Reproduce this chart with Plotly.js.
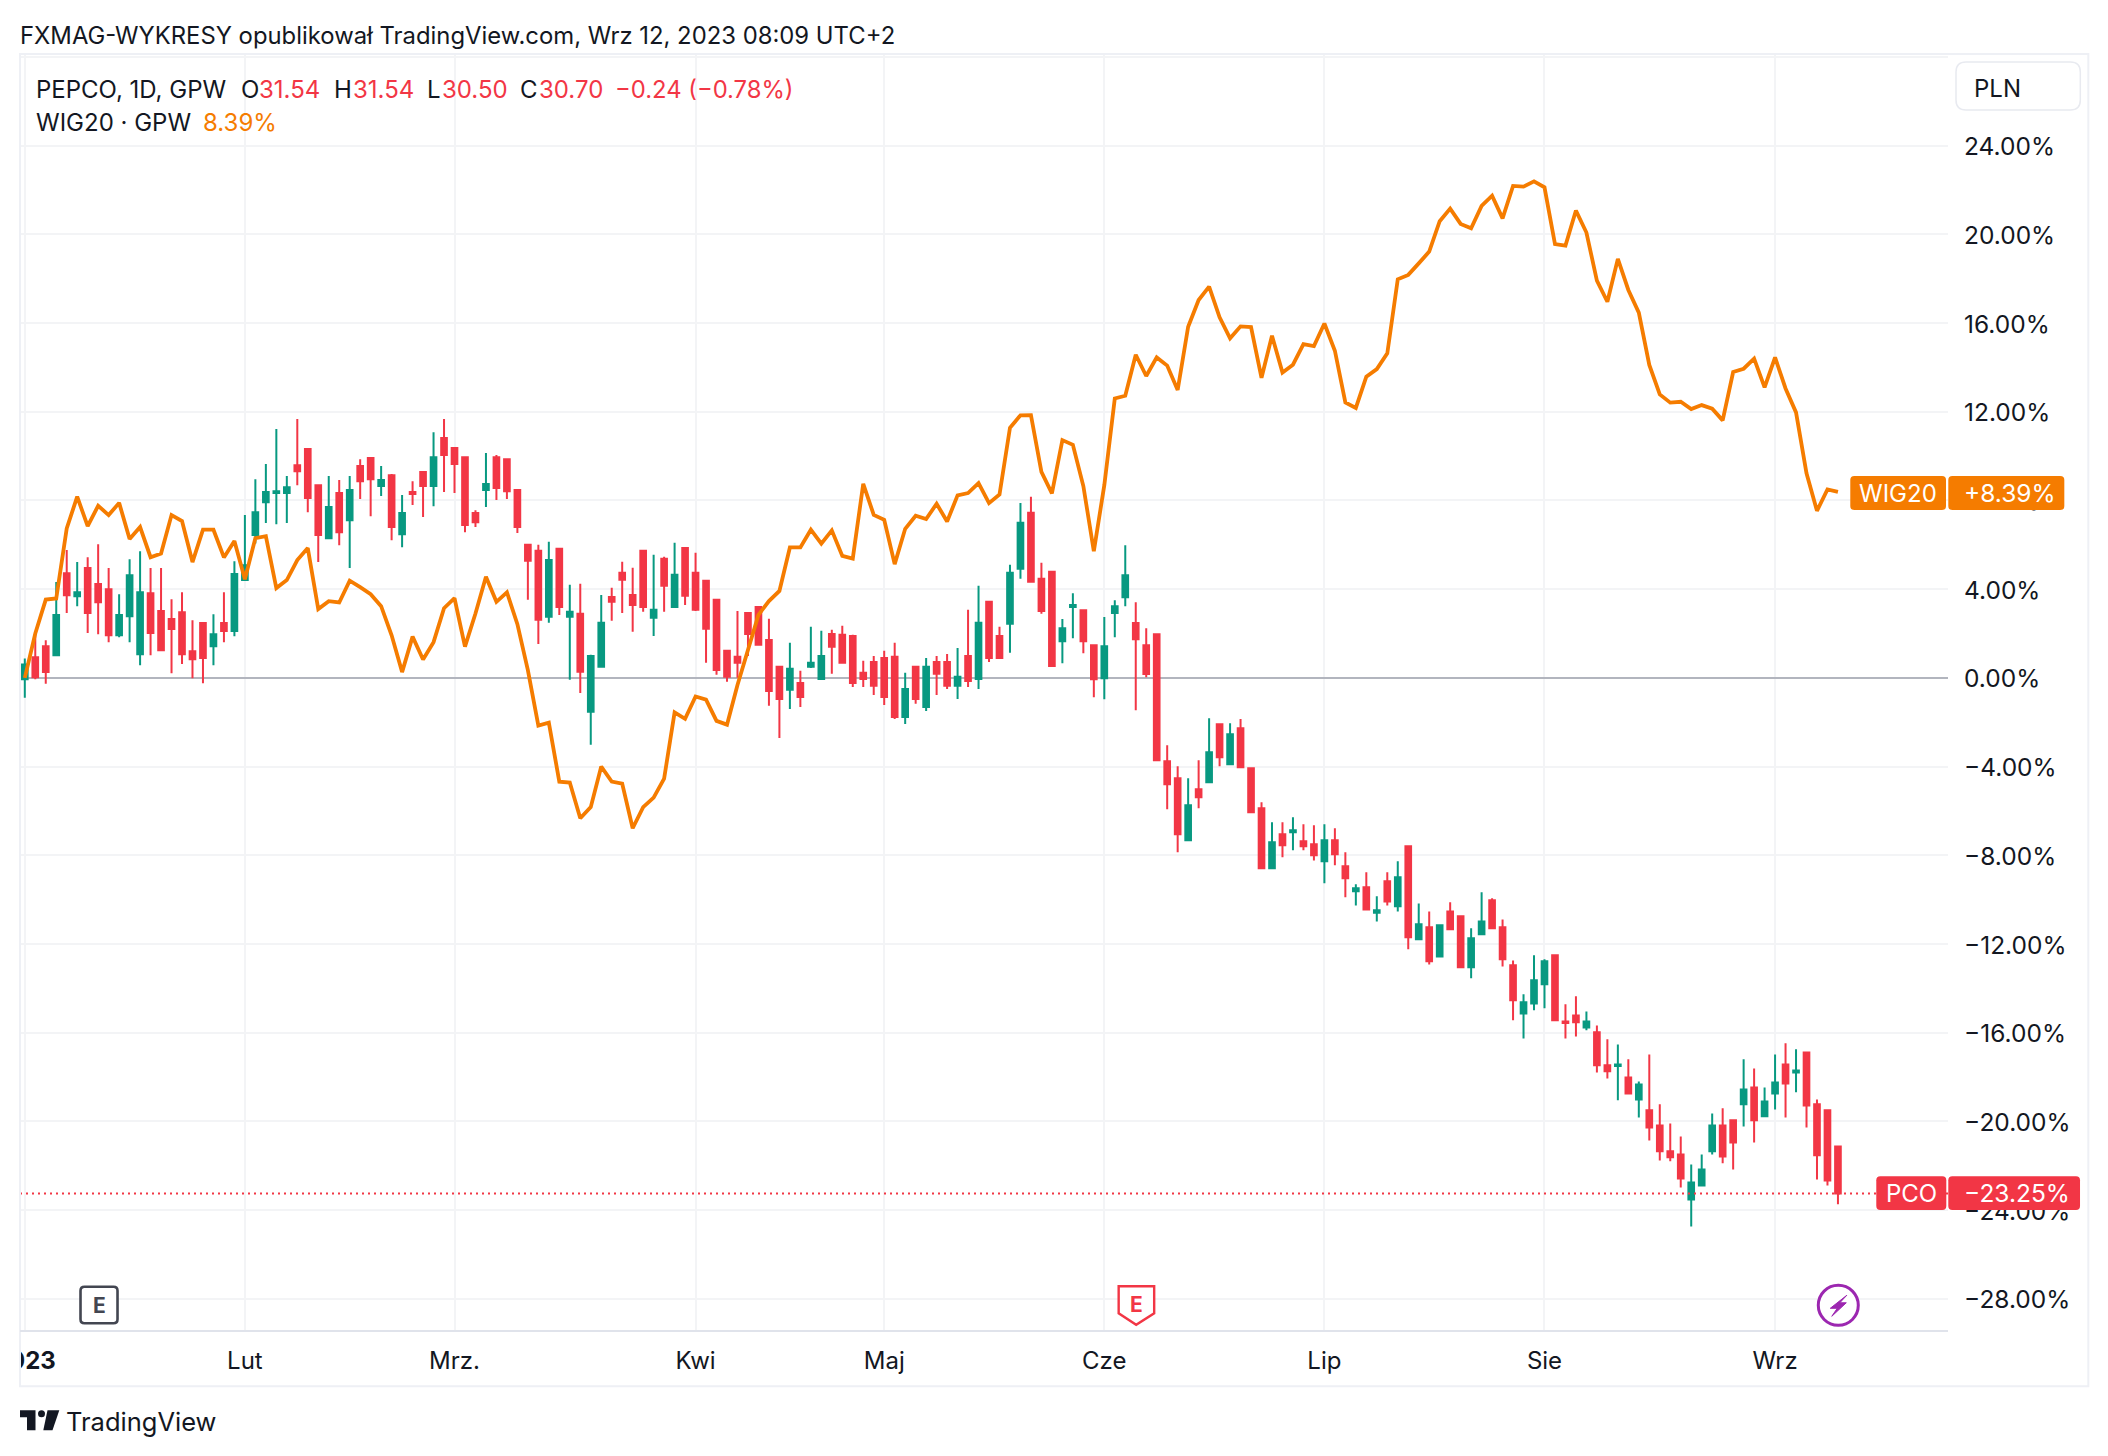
<!DOCTYPE html>
<html>
<head>
<meta charset="utf-8">
<title>PEPCO vs WIG20</title>
<script src="https://cdn.plot.ly/plotly-3.0.1.min.js"></script>
<style>
  html, body {margin: 0; padding: 0; background: #ffffff;}
  #plot-area {width: 2108px; height: 1456px;}
</style>
</head>
<body>
<div id="plot-area"></div>
<script>
// values are % change against the first session, one per session
var pcoOpen = [
  -0.06,0.93,1.43,1.02,4.72,3.68,4.95,4.23,4.0,1.92,
  2.78,1.07,3.82,3.01,2.65,2.96,1.2,2.47,1.43,2.47,
  2.11,4.41,6.44,7.92,8.33,8.33,9.59,10.32,8.69,6.3,
  8.33,7.11,9.55,9.91,8.65,9.14,6.48,8.38,9.28,8.65,
  10.81,10.36,9.95,7.43,8.47,9.95,9.86,8.47,6.0,5.73,
  2.75,5.82,2.75,2.89,-1.53,0.5,3.65,4.74,3.74,5.73,
  2.71,5.37,3.2,5.86,4.74,4.38,3.52,1.22,0.95,2.93,
  3.2,1.71,0.5,-0.54,-0.23,0.5,-0.05,1.98,1.94,1.89,
  0.23,0.72,0.9,0.95,-1.76,0.5,-1.31,0.72,0.72,-0.36,
  0.99,-0.05,3.43,1.89,2.44,4.92,7.44,4.47,4.78,1.65,
  3.19,3.05,1.47,-0.02,2.92,3.64,2.47,1.47,1.97,-3.76,
  -4.53,-7.32,-5.02,-4.71,-2.09,-3.89,-2.27,-4.08,-5.88,-8.59,
  -7.05,-6.96,-7.37,-7.5,-8.27,-7.32,-8.5,-9.62,-9.44,-10.59,
  -9.17,-10.3,-7.59,-11.79,-11.25,-12.56,-10.53,-10.75,-13.05,-11.56,
  -10.03,-11.25,-12.96,-15.13,-14.68,-13.82,-12.51,-15.5,-15.22,-15.76,
  -15.98,-17.47,-17.5,-18.02,-19.01,-19.5,-20.18,-21.35,-21.49,-23.52,
  -22.89,-21.35,-20.18,-19.95,-19.23,-18.47,-19.77,-18.74,-17.43,-17.79,
  -16.89,-19.23,-19.5,-21.13
];
var pcoHigh = [
  0.87,2.05,1.70,4.32,5.76,5.22,5.44,6.03,4.95,3.77,
  5.35,5.71,4.95,4.95,3.55,3.86,2.6,2.47,2.87,3.86,
  5.26,7.34,8.96,9.64,11.22,9.1,11.67,10.32,8.69,9.1,
  8.92,9.1,9.86,9.91,9.55,9.19,8.24,8.87,9.28,11.08,
  11.67,10.36,9.95,7.56,10.14,10.05,9.86,8.47,6.0,6.0,
  6.14,5.82,4.2,4.24,1.04,3.74,4.06,5.23,4.96,5.73,
  5.55,5.46,6.09,5.86,5.64,4.38,3.52,1.22,3.02,2.93,
  3.2,2.66,0.5,1.58,0.32,2.3,2.12,2.17,2.35,1.94,
  0.77,0.99,1.22,1.58,0.23,0.5,0.9,0.99,1.08,1.35,
  3.07,4.15,3.43,2.3,5.1,7.89,8.17,5.19,4.78,2.65,
  3.82,3.05,1.47,2.74,3.5,5.98,3.41,2.24,1.97,-3.04,
  -3.98,-4.53,-3.71,-1.82,-2.09,-2.05,-1.86,-4.08,-5.61,-6.51,
  -6.51,-6.29,-6.6,-6.65,-6.6,-6.78,-7.86,-9.31,-8.77,-9.85,
  -8.77,-8.27,-7.55,-10.17,-10.53,-11.11,-10.12,-10.71,-11.29,-9.67,
  -9.94,-10.89,-12.74,-14.27,-12.51,-12.69,-12.51,-14.72,-14.36,-15.04,
  -15.67,-16.3,-16.53,-17.2,-18.2,-16.98,-19.23,-20.09,-20.68,-21.94,
  -21.49,-19.64,-19.41,-19.95,-17.2,-17.61,-18.47,-16.98,-16.48,-16.75,
  -16.89,-19.01,-19.5,-21.13
];
var pcoLow = [
  -0.9,-0.06,-0.27,1.02,2.92,3.23,2.02,1.97,1.61,1.83,
  1.61,0.57,1.02,1.2,0.21,0.62,-0.02,-0.24,0.57,1.61,
  1.88,4.41,6.06,6.98,6.93,6.98,8.69,7.47,5.22,6.26,
  5.98,4.95,8.06,7.29,8.2,6.21,5.89,7.79,7.25,7.74,
  8.38,8.33,6.57,6.8,7.7,8.02,8.06,6.53,3.52,1.53,
  2.48,2.84,-0.09,-0.68,-3.02,0.5,2.57,2.93,2.08,2.98,
  1.89,2.98,3.2,3.29,3.02,0.68,0.14,-0.18,0,0.99,
  1.49,-1.26,-2.71,-1.4,-1.31,0.45,-0.05,0.18,0.68,-0.41,
  -0.41,-0.77,-1.22,-1.85,-2.08,-1.17,-1.49,-0.77,-0.5,-0.95,
  -0.41,-0.5,0.72,0.86,1.13,4.47,4.33,2.89,0.54,0.66,
  1.79,1.11,-0.87,-0.96,1.83,3.23,-1.46,0.03,-3.71,-5.92,
  -7.86,-7.32,-5.88,-4.71,-3.98,-3.94,-4.03,-6.06,-8.59,-8.59,
  -8.09,-7.77,-7.77,-8.23,-9.26,-8.45,-9.89,-10.26,-10.44,-10.98,
  -10.26,-10.53,-12.24,-11.79,-12.92,-12.6,-11.34,-13.05,-13.55,-11.56,
  -11.29,-13.01,-15.44,-16.26,-14.99,-14.9,-15.44,-16.26,-16.17,-15.89,
  -17.79,-18.06,-19.05,-18.74,-19.82,-20.86,-21.76,-21.8,-22.98,-24.74,
  -22.89,-21.49,-21.89,-22.17,-20.23,-20.95,-19.77,-19.46,-19.82,-18.69,
  -20.27,-22.62,-22.89,-23.74
];
var pcoClose = [
  0.6,0.03,0.26,2.83,3.73,3.86,2.92,3.41,1.92,2.83,
  4.63,3.86,2.02,1.25,2.2,1.07,0.84,0.89,1.97,2.11,
  4.68,5.08,7.47,8.38,8.42,8.6,9.32,8.11,6.44,7.7,
  6.57,8.47,8.87,8.96,8.92,6.8,7.43,8.29,8.65,9.95,
  10.05,9.64,6.89,7.02,8.74,8.56,8.42,6.8,5.28,2.62,
  5.32,3.2,2.98,0.27,0.99,2.48,3.43,4.42,3.29,3.2,
  3.07,4.15,4.65,3.7,3.07,2.21,0.36,0.05,0.68,1.98,
  1.49,-0.59,-0.95,0.41,-0.86,0.68,0.99,1.4,0.68,-0.23,
  -0.05,-0.36,-0.86,-1.76,-0.5,-0.95,0.5,0.18,-0.36,0.05,
  -0.14,2.48,0.9,0.9,4.74,6.99,4.33,3.02,0.54,2.24,
  3.28,1.65,-0.06,1.43,3.23,4.63,1.74,0.17,-3.71,-4.8,
  -7.05,-5.74,-5.38,-3.35,-3.58,-2.54,-4.03,-6.06,-8.59,-7.41,
  -7.55,-6.87,-7.59,-8.0,-7.32,-7.95,-9.04,-9.49,-10.44,-10.48,
  -10.08,-8.99,-11.7,-11.11,-12.78,-11.16,-11.34,-13.05,-11.74,-10.98,
  -11.29,-12.69,-14.54,-14.63,-13.64,-12.78,-15.44,-15.56,-15.53,-15.49,
  -17.47,-17.74,-17.43,-18.74,-18.33,-20.27,-21.35,-21.62,-22.57,-22.75,
  -22.17,-20.18,-21.58,-20.95,-18.56,-19.95,-19.1,-18.24,-18.29,-17.7,
  -19.28,-21.53,-22.66,-23.25
];
var wig20Values = [
  0,2.0,3.53,3.58,6.74,8.17,6.84,7.76,7.34,7.89,
  6.26,6.8,5.44,5.61,7.34,7.07,5.22,6.68,6.68,5.43,
  6.17,4.45,6.3,6.39,4.05,4.41,5.31,5.85,3.1,3.46,
  3.4,4.38,4.09,3.77,3.23,1.92,0.26,1.86,0.83,1.61,
  3.14,3.59,1.41,2.9,4.56,3.43,3.86,2.42,0.35,-2.15,
  -2.02,-4.68,-4.72,-6.33,-5.83,-4.0,-4.68,-4.77,-6.78,-5.83,
  -5.4,-4.54,-1.56,-1.85,-0.84,-0.98,-1.94,-2.11,-0.32,1.26,
  2.84,3.46,3.92,5.88,5.88,6.68,6.05,6.65,5.5,5.38,
  8.75,7.35,7.13,5.13,6.72,7.31,7.16,7.85,7.05,8.23,
  8.33,8.78,7.88,8.27,11.28,11.84,11.85,9.29,8.32,10.72,
  10.51,8.65,5.71,8.69,12.6,12.72,14.57,13.61,14.45,14.08,
  12.98,15.83,17.04,17.64,16.26,15.31,15.85,15.82,13.53,15.43,
  13.77,14.12,15.05,14.96,15.98,14.75,12.42,12.17,13.58,13.92,
  14.63,17.97,18.17,18.69,19.22,20.59,21.16,20.47,20.27,21.28,
  21.74,20.72,22.18,22.15,22.39,22.12,19.56,19.49,21.07,20.08,
  17.91,16.96,18.89,17.49,16.47,14.11,12.78,12.41,12.45,12.12,
  12.3,12.14,11.61,13.79,13.94,14.39,13.1,14.45,13.05,11.97,
  9.22,7.53,8.5,8.39
];
var lastPco = -23.25;

var monthTicks = [0, 21, 41, 64, 82, 103, 124, 145, 167];
var monthLabels = ["<b>2023</b>", "Lut", "Mrz.", "Kwi", "Maj", "Cze", "Lip", "Sie", "Wrz"];
var percentTicks = [28, 24, 20, 16, 12, 8, 4, 0, -4, -8, -12, -16, -20, -24, -28];
var percentLabels = ["", "24.00%", "20.00%", "16.00%", "12.00%", "8.00%", "4.00%", "0.00%",
  "\u22124.00%", "\u22128.00%", "\u221212.00%", "\u221216.00%", "\u221220.00%", "\u221224.00%", "\u221228.00%"];

var RED = "#F23645", GREEN = "#089981", ORANGE = "#F57C00", INK = "#131722", GRID = "#F3F4F6";
var FONT = "Inter, 'Noto Sans', sans-serif";

var plotLeft = 20, plotRight = 1947.7, plotTop = 54, plotBottom = 1330.7;

// pixel position in the picture -> paper coordinates
function X(px) { return (px - plotLeft) / (plotRight - plotLeft); }
function Y(py) { return (plotBottom - py) / (plotBottom - plotTop); }

function Text(text, px, py, size, color, anchor) {
    return {
        text: text, xref: "paper", yref: "paper", x: X(px), y: Y(py),
        xanchor: anchor || "left", yanchor: "middle", showarrow: false,
        borderpad: 0, borderwidth: 0,
        font: {family: FONT, size: size, color: color || INK}
    };
}

function RoundRectPath(x0, y0, x1, y1, r) {
    return "M" + X(x0 + r) + "," + Y(y0) + " L" + X(x1 - r) + "," + Y(y0) +
        " Q" + X(x1) + "," + Y(y0) + " " + X(x1) + "," + Y(y0 + r) +
        " L" + X(x1) + "," + Y(y1 - r) +
        " Q" + X(x1) + "," + Y(y1) + " " + X(x1 - r) + "," + Y(y1) +
        " L" + X(x0 + r) + "," + Y(y1) +
        " Q" + X(x0) + "," + Y(y1) + " " + X(x0) + "," + Y(y1 - r) +
        " L" + X(x0) + "," + Y(y0 + r) +
        " Q" + X(x0) + "," + Y(y0) + " " + X(x0 + r) + "," + Y(y0) + " Z";
}

function PolyPath(points) {
    var s = "";
    for (var i = 0; i < points.length; i += 1) {
        s += (i == 0 ? "M" : " L") + X(points[i][0]) + "," + Y(points[i][1]);
    }
    return s + " Z";
}

function PathShape(path, fill, lineColor, lineWidth) {
    return {
        type: "path", xref: "paper", yref: "paper", layer: "above", path: path,
        fillcolor: fill, line: {color: lineColor || "rgba(0,0,0,0)", width: lineWidth || 0}
    };
}

function RectShape(x0, y0, x1, y1, fill, lineColor, lineWidth) {
    return {
        type: "rect", xref: "paper", yref: "paper", layer: "above",
        x0: X(x0), x1: X(x1), y0: Y(y0), y1: Y(y1),
        fillcolor: fill, line: {color: lineColor || "rgba(0,0,0,0)", width: lineWidth || 0}
    };
}

function UpdatePlot() {
    var sessions = [];
    for (var i = 0; i < pcoClose.length; i += 1) {
        sessions.push(i);
    }
    var xMin = -0.458, xMax = 183.5;

    var data = [
        {
            type: "candlestick",
            x: sessions, open: pcoOpen, high: pcoHigh, low: pcoLow, close: pcoClose,
            increasing: {line: {color: GREEN, width: 2}, fillcolor: GREEN},
            decreasing: {line: {color: RED, width: 2}, fillcolor: RED},
            whiskerwidth: 0,
            name: "PCO",
            hoverinfo: "none"
        },
        {
            x: sessions, y: wig20Values,
            mode: "lines",
            name: "WIG20",
            line: {color: ORANGE, width: 3.8},
            hoverinfo: "none"
        },
        {
            x: [xMin, xMax], y: [lastPco, lastPco],
            mode: "lines",
            name: "last",
            line: {color: RED, width: 2, dash: "2px,4px"},
            hoverinfo: "none"
        }
    ];

    var annotations = [
        Text("FXMAG-WYKRESY opublikował TradingView.com, Wrz 12, 2023 08:09 UTC+2", 20, 36, 23.85),
        Text("PEPCO, 1D, GPW", 36, 89, 24),
        Text("O", 241, 89, 24),
        Text("31.54", 259, 89, 24, RED),
        Text("H", 334, 89, 24),
        Text("31.54", 353, 89, 24, RED),
        Text("L", 427, 89, 24),
        Text("30.50", 442, 89, 24, RED),
        Text("C", 520, 89, 24),
        Text("30.70", 539, 89, 24, RED),
        Text("\u22120.24 (\u22120.78%)", 615, 89, 23.8, RED),
        Text("WIG20 · GPW", 36, 122.5, 24),
        Text("8.39%", 203, 122.5, 24, ORANGE),
        Text("PLN", 1974, 88, 24),
        Text("WIG20", 1897.7, 493, 24, "#ffffff", "center"),
        Text("+8.39%", 1964, 493, 24.5, "#ffffff"),
        Text("PCO", 1911, 1193, 24, "#ffffff", "center"),
        Text("\u221223.25%", 1964, 1193, 24.5, "#ffffff"),
        Text("<b>E</b>", 99, 1305, 21, "#434651", "center"),
        Text("<b>E</b>", 1136, 1304, 21, RED, "center"),
        Text("TradingView", 66, 1421, 25.5)
    ];

    var shapes = [
        // hides the left part of the clipped year label
        RectShape(0, 1334, 19, 1384, "#ffffff"),
        RectShape(20, 54, 2088, 1386, "rgba(0,0,0,0)", "#EEF0F5", 2),
        RectShape(20, 1330.7, 1947.7, 1330.7, "rgba(0,0,0,0)", "#E0E3EB", 2),
        PathShape(RoundRectPath(1955.7, 62, 2080, 110, 10), "#ffffff", "#E8EAF0", 1.5),
        PathShape(RoundRectPath(1850, 476, 1945.7, 510, 4), ORANGE),
        PathShape(RoundRectPath(1948, 476, 2064, 510, 4), ORANGE),
        PathShape(RoundRectPath(1876, 1176, 1946, 1209.7, 4), RED),
        PathShape(RoundRectPath(1948, 1176, 2079.7, 1209.7, 4), RED),
        PathShape(RoundRectPath(80.5, 1286.5, 117.5, 1323, 4), "#ffffff", "#434651", 2.6),
        PathShape(PolyPath([[1118.5, 1286], [1154, 1286], [1154, 1313], [1136, 1324.5], [1118.5, 1313]]), "#ffffff", RED, 2.4),
        {type: "circle", xref: "paper", yref: "paper", layer: "above",
            x0: X(1818), x1: X(1858), y0: Y(1285), y1: Y(1325),
            fillcolor: "#ffffff", line: {color: "#9C27B0", width: 3}},
        PathShape(PolyPath([[1846.5, 1295], [1830, 1308], [1837, 1308], [1831.5, 1316], [1846, 1302.5], [1839.5, 1302.5]]), "#9C27B0", "#9C27B0", 1),
        // TradingView mark
        PathShape(PolyPath([[20, 1410], [35.5, 1410], [35.5, 1430], [27, 1430], [27, 1417], [20, 1417]]), INK),
        {type: "circle", xref: "paper", yref: "paper", layer: "above",
            x0: X(38), x1: X(45), y0: Y(1410), y1: Y(1417), fillcolor: INK, line: {width: 0}},
        PathShape(PolyPath([[47.5, 1410], [59.3, 1410], [52.5, 1430], [43.3, 1430]]), INK)
    ];

    var layout = {
        width: 2108, height: 1456,
        margin: {l: plotLeft, r: 2108 - plotRight, t: plotTop, b: 1456 - plotBottom, pad: 0, autoexpand: false},
        paper_bgcolor: "#ffffff", plot_bgcolor: "#ffffff",
        showlegend: false,
        boxgap: 0.46,
        boxgroupgap: 0,
        font: {family: FONT, color: INK},
        xaxis: {
            type: "linear", range: [xMin, xMax],
            rangeslider: {visible: false},
            tickmode: "array", tickvals: monthTicks, ticktext: monthLabels,
            tickangle: 0,
            ticklabeloverflow: "allow",
            showgrid: true, gridcolor: GRID, gridwidth: 2,
            zeroline: false, showline: false, ticks: "",
            ticklabelstandoff: 13,
            tickfont: {family: FONT, size: 24, color: INK}
        },
        yaxis: {
            type: "linear", range: [-29.45, 28.13], side: "right",
            tickmode: "array", tickvals: percentTicks, ticktext: percentLabels,
            ticklabeloverflow: "allow",
            showgrid: true, gridcolor: GRID, gridwidth: 2,
            zeroline: true, zerolinecolor: "#B2B5BE", zerolinewidth: 1.6,
            showline: false, ticks: "",
            ticklabelstandoff: 15,
            ticklabelshift: 1,
            tickfont: {family: FONT, size: 24.5, color: INK}
        },
        annotations: annotations,
        shapes: shapes
    };

    Plotly.newPlot("plot-area", data, layout, {displayModeBar: false, staticPlot: true});
}

UpdatePlot();
</script>
</body>
</html>
